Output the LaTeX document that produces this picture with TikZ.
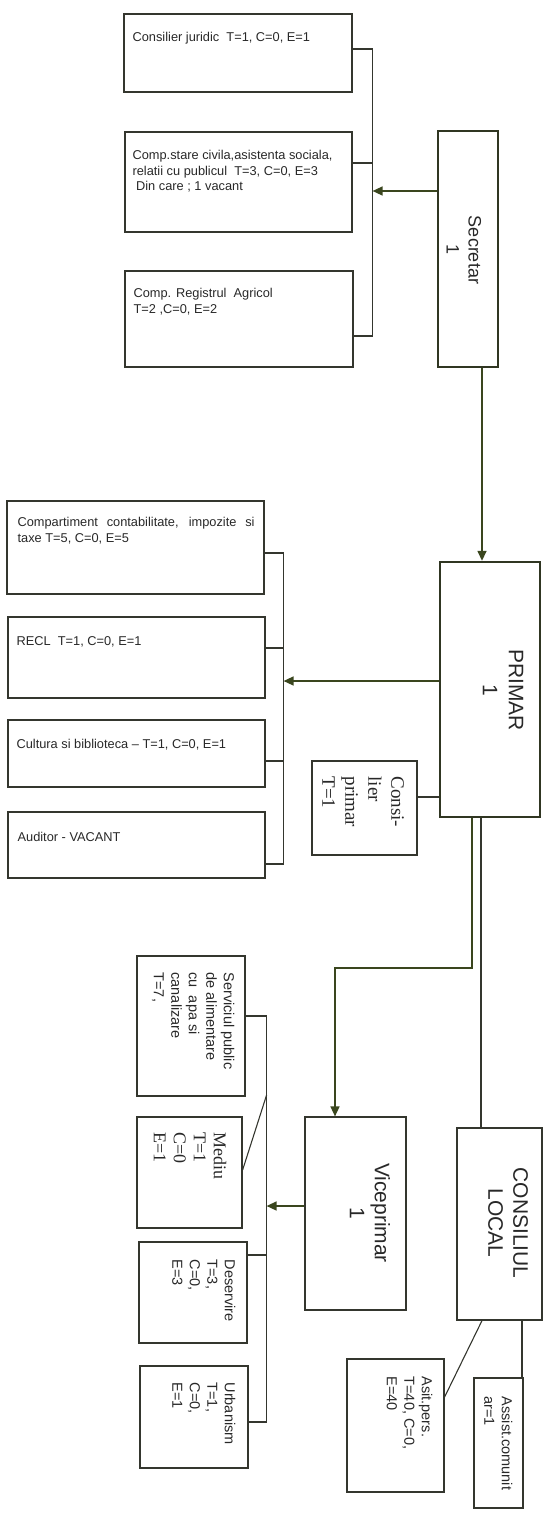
\documentclass[tikz,border=0pt]{standalone}
\usepackage{fontspec}
\setmainfont{Liberation Sans}
\newfontfamily\serifr{Liberation Serif}
\usetikzlibrary{arrows.meta, positioning, fit, calc}
\definecolor{lineclr}{RGB}{52,54,46}
\definecolor{bossclr}{RGB}{48,54,34}
\definecolor{arrclr}{RGB}{58,70,30}
\definecolor{txtclr}{RGB}{40,40,40}

\begin{document}
\begin{tikzpicture}[x=1pt, y=-1pt,
    box/.style={draw=lineclr, line width=1.2pt, inner sep=0pt},
    boss/.style={box, draw=bossclr, line width=2.4pt},
    htxt/.style={inner sep=0pt, anchor=north west, align=left, text=txtclr,
                 font=\fontsize{12.8}{15.5}\selectfont},
    vtxt/.style={inner sep=0pt, anchor=north west, rotate=-90, align=left,
                 text=txtclr, font=\fontsize{14.5}{17.5}\selectfont},
    stxt/.style={vtxt, font=\serifr\fontsize{18}{20}\selectfont},
    ttl/.style={inner sep=0pt, rotate=-90, align=center, text=txtclr,
                font=\fontsize{21}{25}\selectfont},
    link/.style={draw=lineclr, line width=1.1pt},
    arr/.style={draw=arrclr, line width=1.5pt, -{Triangle[length=10pt,width=9pt]}}]
    \useasboundingbox (0,0) rectangle (549,1529);

    % conducere
    \node[boss, fit={(438,131) (498,367)}] (sec) {};
    \node[ttl, font=\fontsize{18}{22}\selectfont] (secT) at (464,250) {Secretar\\1};
    \node[boss, fit={(440,562) (540,817)}] (prim) {};
    \node[ttl, font=\fontsize{21}{26}\selectfont] (primT) at (503,690) {PRIMAR\\1};
    \node[box, fit={(305,1117) (406,1310)}] (vice) {};
    \node[ttl] (viceT) at (370,1213) {Viceprimar\\1};
    \node[box, fit={(457,1128) (542,1320)}] (cl) {};
    \node[ttl] (clT) at (508,1223) {CONSILIUL\\LOCAL};

    % compartimente secretar
    \node[box, fit={(124,14) (352,92)}] (cj) {};
    \node[htxt] (cjT) at ([shift={(9,19)}]cj.north west) {Consilier juridic\ \ T=1, C=0, E=1};
    \node[box, fit={(125,132) (352,232)}] (csc) {};
    \node[htxt] (cscT) at ([shift={(8,19)}]csc.north west)
      {Comp.stare civila,asistenta sociala,\\relatii cu publicul\ \ T=3, C=0, E=3\\\ Din care ; 1 vacant};
    \node[box, fit={(125,271) (353,367)}] (cra) {};
    \node[htxt] (craT) at ([shift={(9,18)}]cra.north west) {Comp. Registrul\ \ Agricol\\T=2 ,C=0, E=2};

    % compartimente primar
    \node[box, fit={(7,501) (264,594)}] (cct) {};
    \node[htxt, text width=237pt, align=justify] (cctT) at ([shift={(11,17)}]cct.north west)
      {Compartiment contabilitate, impozite si\linebreak taxe T=5, C=0, E=5};
    \node[box, fit={(8,617) (265,698)}] (recl) {};
    \node[htxt] (reclT) at ([shift={(9,20)}]recl.north west) {RECL\ \ T=1, C=0, E=1};
    \node[box, fit={(8,720) (265,787)}] (cult) {};
    \node[htxt] (cultT) at ([shift={(9,20)}]cult.north west) {Cultura si biblioteca -- T=1, C=0, E=1};
    \node[box, fit={(8,812) (265,878)}] (aud) {};
    \node[htxt] (audT) at ([shift={(10,21)}]aud.north west) {Auditor - VACANT};
    \node[box, fit={(312,761) (417,855)}] (cp) {};
    \node[stxt, font=\serifr\fontsize{19}{23}\selectfont] (cpT) at ([shift={(-13.5,16)}]cp.north east)
      {Consi-\\lier\\primar\\T=1};

    % compartimente viceprimar
    \node[box, fit={(137,956) (245,1096)}] (serv) {};
    \node[vtxt] (servT) at ([shift={(-11,17)}]serv.north east)
      {Serviciul public\\de alimentare\\cu\ \ apa si\\canalizare\\T=7,};
    \node[box, fit={(137,1117) (242,1228)}] (med) {};
    \node[stxt] (medT) at ([shift={(-16,16)}]med.north east) {Mediu\\T=1\\C=0\\E=1};
    \node[box, fit={(139,1242) (247,1343)}] (des) {};
    \node[vtxt] (desT) at ([shift={(-12,18)}]des.north east) {Deservire\\T=3,\\C=0,\\E=3};
    \node[box, fit={(140,1366) (248,1468)}] (urb) {};
    \node[vtxt] (urbT) at ([shift={(-13,17)}]urb.north east) {Urbanism\\T=1,\\C=0,\\E=1};

    % consiliul local
    \node[box, fit={(347,1359) (444,1492)}] (asit) {};
    \node[vtxt] (asitT) at ([shift={(-12,18)}]asit.north east) {Asit.pers.\\T=40, C=0,\\E=40};
    \node[box, fit={(474,1378) (523,1508)}] (asc) {};
    \node[vtxt] (ascT) at ([shift={(-11,19)}]asc.north east) {Assist.comunit\\ar=1};

    % legaturi secretar
    \draw[link] ([yshift=4pt]cj.east) -- ++(20,0) coordinate (bs1) |- ([yshift=-17pt]cra.east);
    \draw[link] ([yshift=19pt]csc.east) -- ++(20,0);
    \coordinate (sa) at ([yshift=58pt]sec.west);
    \draw[arr] (sa) -- (sa -| bs1);
    \coordinate (sp) at ([xshift=14pt]sec.south);
    \draw[arr] (sp) -- (sp |- prim.north);

    % legaturi primar
    \draw[link] ([yshift=-5.5pt]cct.east) -- ++(19,0) coordinate (bs2) |- ([yshift=-19pt]aud.east);
    \draw[link] ([yshift=9.5pt]recl.east) -- ++(18,0);
    \draw[link] ([yshift=-7.5pt]cult.east) -- ++(18,0);
    \coordinate (pa) at ([yshift=8.5pt]prim.west);
    \draw[arr] (pa) -- (pa -| bs2);
    \coordinate (cpa) at ([yshift=11pt]cp.east);
    \draw[link] (cpa) -- (cpa -| prim.west);
    \coordinate (pv) at ([xshift=-18pt]prim.south);
    \coordinate (vt) at ([xshift=-20.5pt]vice.north);
    \draw[arr] (pv) -- ++(0,150) -| (vt);
    \coordinate (pc) at ([xshift=-9pt]prim.south);
    \draw[link] (pc) -- (pc |- cl.north);

    % legaturi viceprimar
    \draw[link] ([yshift=10pt]serv.east) -- ++(21,0) coordinate (bs3) |- ([yshift=-5pt]urb.east);
    \draw[link] ([yshift=37.5pt]des.east) -- ++(19,0);
    \draw[link] ([yshift=2.5pt]med.east) -- ++(24,-75);
    \coordinate (va) at ([yshift=7.5pt]vice.west);
    \draw[arr] (va) -- (va -| bs3);

    % legaturi consiliu
    \coordinate (cla) at ([xshift=-17.5pt]cl.south);
    \draw[link] (cla) -- ([yshift=28.5pt]asit.east);
    \coordinate (clb) at ([xshift=22.5pt]cl.south);
    \draw[link] (clb) -- (clb |- asc.north);
\end{tikzpicture}
\end{document}
